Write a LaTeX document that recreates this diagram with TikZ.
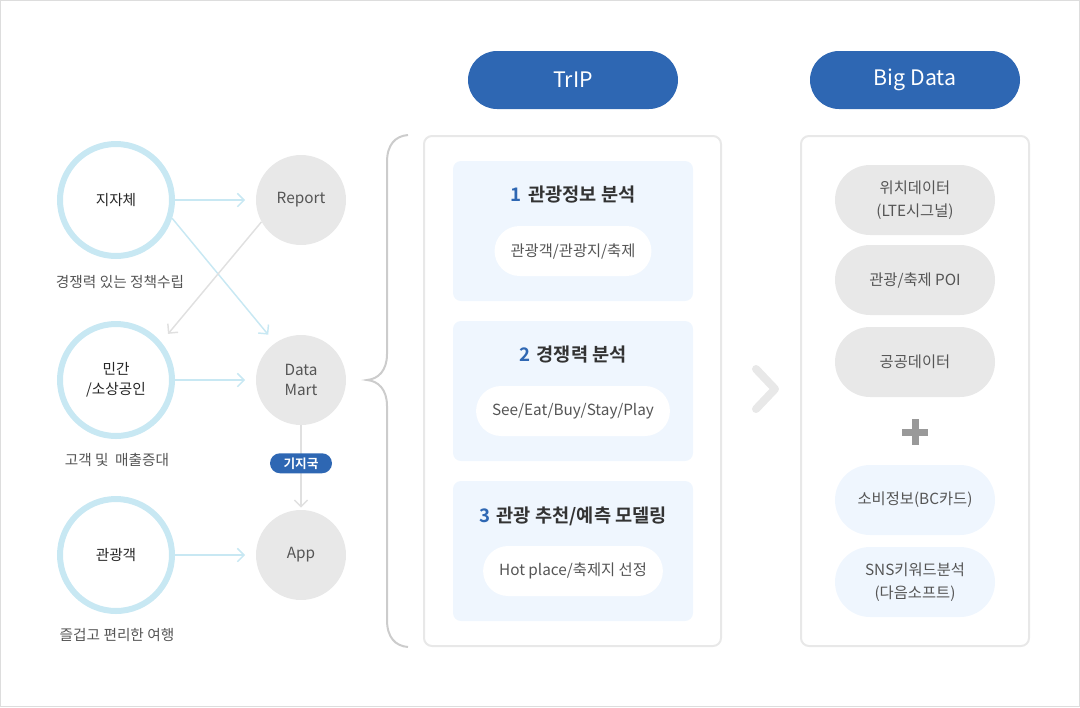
\documentclass[tikz,border=0pt]{standalone}
\usepackage{fontspec}
\setmainfont{Noto Sans CJK KR}[BoldFont={Noto Sans CJK KR Bold}]
\usepackage[HTML]{xcolor}
\usepackage{tikz}
\usetikzlibrary{positioning, arrows.meta}

\definecolor{ringblue}{HTML}{C8E8F3}
\definecolor{headblue}{HTML}{2E67B3}
\definecolor{boxblue}{HTML}{EFF6FE}
\definecolor{pillgray}{HTML}{E8E8E8}
\definecolor{linegray}{HTML}{E0E0E0}
\definecolor{bracegray}{HTML}{CCCCCC}
\definecolor{framegray}{HTML}{DDDDDD}
\definecolor{textgray}{HTML}{555555}
\definecolor{darktext}{HTML}{333333}

\begin{document}
\begin{tikzpicture}[x=0.75pt,y=-0.75pt,
  ring/.style={circle,draw=ringblue,line width=4.5pt,minimum size=84pt,inner sep=0pt,
    align=center,text=black!85,font=\fontsize{11}{15}\selectfont},
  dot/.style={circle,fill=pillgray,minimum size=67.5pt,inner sep=0pt,
    align=center,text=textgray,font=\fontsize{11.5}{15}\selectfont},
  caption/.style={text=textgray,font=\fontsize{11}{13}\selectfont},
  link/.style={ringblue,line width=1.1pt,-{Straight Barb[length=5pt,width=10pt]},shorten >=8pt},
  feed/.style={linegray,line width=1.1pt,-{Straight Barb[length=5pt,width=10pt]},shorten >=8pt},
  tag/.style={fill=headblue,rounded corners=7.5pt,minimum width=46.5pt,minimum height=15pt,
    inner sep=0pt,text=white,font=\bfseries\fontsize{9.5}{11}\selectfont},
  head/.style={fill=headblue,rounded corners=21.75pt,minimum width=157.5pt,minimum height=43.5pt,
    text=white,font=\fontsize{16}{19}\selectfont},
  panel/.style={draw=pillgray,line width=1.5pt,rounded corners=6pt},
  title/.style={text=darktext,font=\bfseries\fontsize{14}{17}\selectfont},
  whitepill/.style={fill=white,rounded corners=18.75pt,minimum height=37.5pt,inner xsep=12pt,
    text=textgray,font=\fontsize{11.5}{14}\selectfont},
  datapill/.style={fill=pillgray,rounded corners=26.25pt,minimum width=120pt,minimum height=52.5pt,
    align=center,text=textgray,font=\fontsize{11.5}{17}\selectfont},
  chevron/.style={pillgray,line width=6pt,line cap=round,line join=round}]

\useasboundingbox (0,0) rectangle (1080,707);
\draw[framegray,line width=1pt] (0.7,0.7) rectangle (1079.3,706.3);

% --- who uses it ---
\node[ring] (jijache) at (116,200) {지자체};
\node[ring] (minggan) at (116,380) {민간\\/소상공인};
\node[ring] (tourist) at (116,555) {관광객};
\node[caption] (cap1) at (120,282) {경쟁력 있는 정책수립};
\node[caption] (cap2) at (117,460) {고객 및\ \ 매출증대};
\node[caption] (cap3) at (117,635) {즐겁고 편리한 여행};

\node[dot] (report) at (301,200) {Report};
\node[dot] (datamart) at (301,380) {Data\\Mart};
\node[dot] (app) at (301,555) {App};

\draw[link] (jijache) -- (report);
\draw[link] (jijache.-18) -- (datamart.125);
\draw[feed] (report.209) -- (minggan.40);
\draw[link] (minggan) -- (datamart);
\draw[link] (tourist) -- (app);
\draw[feed,shorten >=1.5pt] (datamart) -- node[tag,pos=0.45] (station) {기지국} (app);

% --- brace ---
\draw[bracegray,line width=1.5pt] (408,135) .. controls (395,136) and (387,145) .. (387,162)
  -- (387,354) .. controls (387,371) and (378,379) .. (367,380)
  .. controls (378,381) and (387,389) .. (387,406)
  -- (387,620) .. controls (387,637) and (395,646) .. (408,647);

% --- TrIP ---
\node[head] (trip) at (573,80) {TrIP};
\draw[panel] (424,136) rectangle (721,646);
\foreach \y in {161,321,481}{
\fill[boxblue,rounded corners=6pt] (453,\y) rectangle (693,\y+140);
}
\node[title] (step1) at (573,195) {\textcolor{headblue}{1}\hspace{5pt}관광정보 분석};
\node[whitepill] (sub1) at (573,251) {관광객/관광지/축제};
\node[title] (step2) at (573,355) {\textcolor{headblue}{2}\hspace{5pt}경쟁력 분석};
\node[whitepill] (sub2) at (573,411) {See/Eat/Buy/Stay/Play};
\node[title] (step3) at (573,516) {\textcolor{headblue}{3}\hspace{5pt}관광 추천/예측 모델링};
\node[whitepill] (sub3) at (573,571) {Hot place/축제지 선정};

\draw[chevron] (756,369) -- (775,389) -- (756,409);

% --- Big Data ---
\node[head] (bigdata) at (915,80) {Big Data};
\draw[panel] (801,136) rectangle (1029,646);
\node[datapill] (lte) at (915,200) {위치데이터\\(LTE시그널)};
\node[datapill] (poi) at (915,280) {관광/축제 POI};
\node[datapill] (public) at (915,362) {공공데이터};
\draw[gray!80,line width=5.25pt] (902,432) -- (928,432);
\draw[gray!80,line width=5.25pt] (915,419) -- (915,445);
\node[datapill,fill=boxblue] (card) at (915,500) {소비정보(BC카드)};
\node[datapill,fill=boxblue] (sns) at (915,582) {SNS키워드분석\\(다음소프트)};
\end{tikzpicture}
\end{document}
